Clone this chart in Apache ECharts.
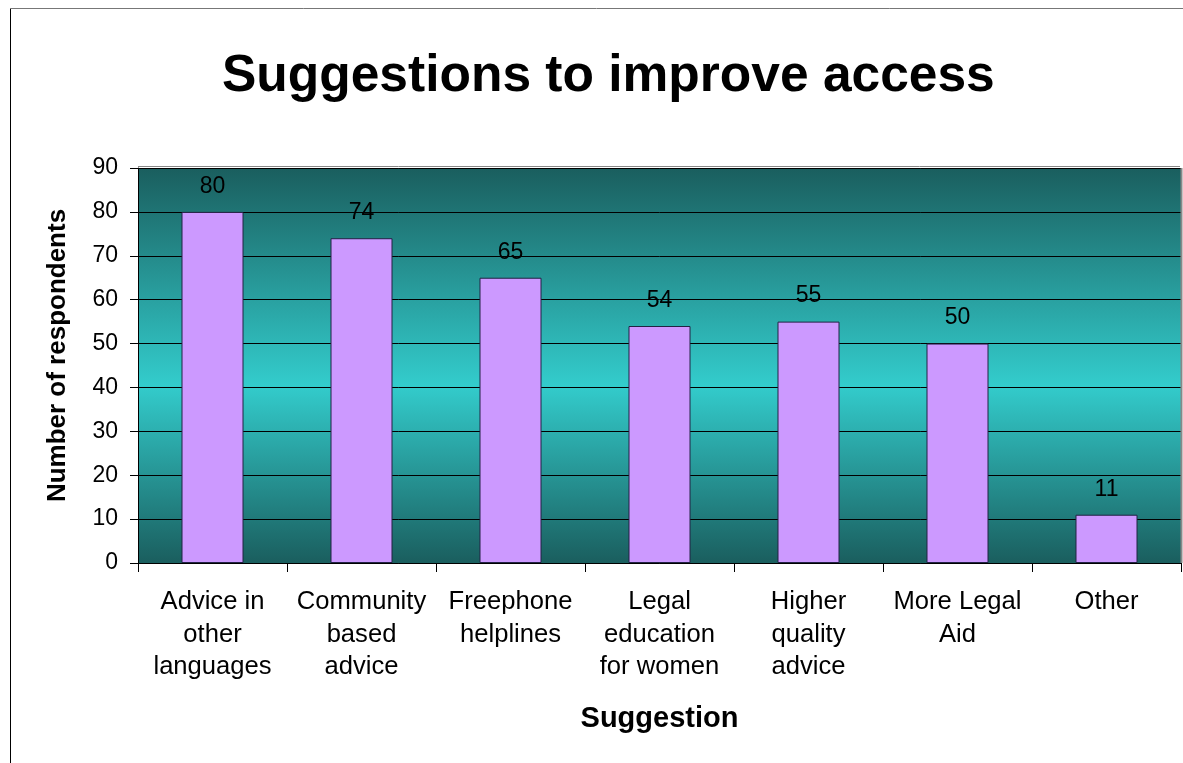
<!DOCTYPE html>
<html>
<head>
<meta charset="utf-8">
<style>
  html, body { margin: 0; padding: 0; background: #ffffff; }
  #chart { width: 1183px; height: 763px; }
</style>
<script src="https://cdn.jsdelivr.net/npm/echarts@6/dist/echarts.min.js"></script>
</head>
<body>
<div id="chart"></div>
<script>
const categories = [
  'Advice in\nother\nlanguages',
  'Community\nbased\nadvice',
  'Freephone\nhelplines',
  'Legal\neducation\nfor women',
  'Higher\nquality\nadvice',
  'More Legal\nAid',
  'Other'
];
const respondents = [80, 74, 65, 54, 55, 50, 11];
const titleText = 'Suggestions to improve access';
const xAxisTitle = 'Suggestion';
const yAxisTitle = 'Number of respondents';

const chart = echarts.init(document.getElementById('chart'), null, { renderer: 'canvas' });
const font = '"Liberation Sans", Arial, sans-serif';

chart.setOption({
  backgroundColor: '#ffffff',
  animation: false,
  title: {
    text: titleText,
    left: 217,
    top: 46,
    textStyle: { fontFamily: font, fontSize: 51.5, fontWeight: 'bold', color: '#000' }
  },
  graphic: [
    // outer chart frame (left and top edges)
    { type: 'line', shape: { x1: 10.5, y1: 9, x2: 10.5, y2: 763 }, style: { stroke: '#000', lineWidth: 1 } },
    { type: 'line', shape: { x1: 10, y1: 8.5, x2: 1183, y2: 8.5 }, style: { stroke: '#777', lineWidth: 1 } },
    // plot frame top edge and right-hand shadow
    { type: 'line', shape: { x1: 138, y1: 166.5, x2: 1180, y2: 166.5 }, style: { stroke: '#888', lineWidth: 1 }, z: 100 },
    { type: 'line', shape: { x1: 1181.5, y1: 168, x2: 1181.5, y2: 563 }, style: { stroke: '#888', lineWidth: 2 }, z: 100 }
  ],
  grid: {
    left: 138, right: 2, top: 168, bottom: 200,
    show: true,
    borderWidth: 0,
    backgroundColor: {
      type: 'linear', x: 0, y: 0, x2: 0, y2: 1,
      colorStops: [
        { offset: 0, color: '#1a5e5e' },
        { offset: 0.55, color: '#33cccc' },
        { offset: 1, color: '#1a5e5e' }
      ]
    }
  },
  xAxis: {
    type: 'category',
    data: categories,
    name: xAxisTitle,
    nameLocation: 'middle',
    nameGap: 141,
    nameTextStyle: { fontFamily: font, fontSize: 29, fontWeight: 'bold', color: '#000' },
    axisLine: { lineStyle: { color: '#000', width: 1 } },
    axisTick: { show: true, length: 9, lineStyle: { color: '#000' } },
    axisLabel: {
      interval: 0, margin: 23,
      fontFamily: font, fontSize: 25.6, lineHeight: 32.5, color: '#000', align: 'center'
    }
  },
  yAxis: {
    type: 'value',
    min: 0, max: 90, interval: 10,
    name: yAxisTitle,
    nameLocation: 'middle',
    nameGap: 67,
    nameTextStyle: { fontFamily: font, fontSize: 26, fontWeight: 'bold', color: '#000', padding: [0, 0, 0, 20] },
    axisLine: { show: true, lineStyle: { color: '#000', width: 1 } },
    axisTick: { show: true, length: 8, lineStyle: { color: '#000' } },
    axisLabel: { margin: 20, fontFamily: font, fontSize: 23, color: '#000' },
    splitLine: { show: true, lineStyle: { color: '#000', width: 1 } }
  },
  series: [{
    type: 'bar',
    data: respondents,
    barWidth: 62,
    itemStyle: { color: '#cc99ff', borderColor: '#222244', borderWidth: 1 },
    label: {
      show: true, position: 'top', distance: 14,
      fontFamily: font, fontSize: 23, color: '#000'
    }
  }]
});
</script>
</body>
</html>
